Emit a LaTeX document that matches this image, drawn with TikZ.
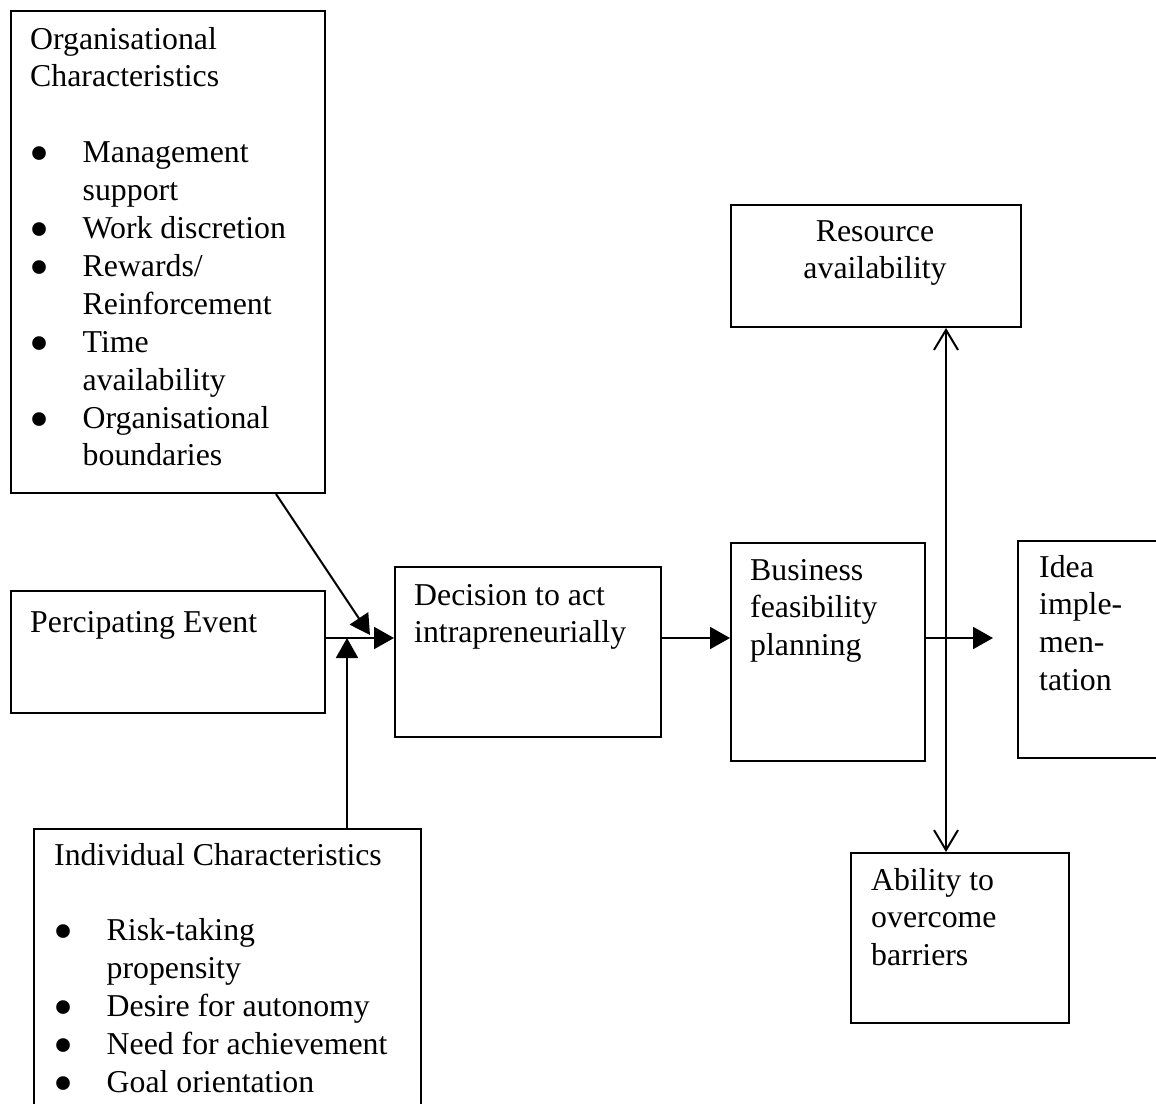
\documentclass[tikz,border=0pt]{standalone}
\usepackage{fontspec}
\setmainfont{Liberation Serif}
\usetikzlibrary{arrows.meta,calc}
% bulleted line with a hanging indent for its continuation lines
\newcommand\bul[1]{\par\hangindent=52.5pt\hangafter=1\noindent
  \makebox[52.5pt][l]{\hspace{-1pt}\raisebox{-10pt}[0pt][0pt]{\scalebox{1.8}{\textbullet}}}#1}
\begin{document}
\begin{tikzpicture}[x=1pt,y=-1pt,
  box/.style={draw,line width=2pt,rectangle,inner sep=0pt,anchor=north west},
  txt/.style={inner sep=0pt,anchor=base west,font=\fontsize{31.8}{37.9}\selectfont},
  conn/.style={line width=2pt},
  fwd/.style={conn,-{Triangle[length=20pt,width=22pt]}},
  both/.style={conn,{Straight Barb[length=20pt,width=24pt]}-{Straight Barb[length=20pt,width=24pt]}}]
\useasboundingbox (0,0) rectangle (1156,1103);
\clip (0,0) rectangle (1156,1103);
\fill[white] (0,0) rectangle (1156,1103);

% boxes
\node[box,minimum width=314pt,minimum height=482pt] (org) at (10,10) {};
\node[box,minimum width=314pt,minimum height=122pt] (pe) at (10,590) {};
\node[box,minimum width=266pt,minimum height=170pt] (dec) at (394,566) {};
\node[box,minimum width=194pt,minimum height=218pt] (bus) at (730,542) {};
\node[box,minimum width=290pt,minimum height=122pt] (res) at (730,204) {};
\node[box,minimum width=180pt,minimum height=217pt] (idea) at (1017,540) {};
\node[box,minimum width=218pt,minimum height=170pt] (abl) at (850,852) {};
\node[box,minimum width=387pt,minimum height=310pt] (ind) at (33,828) {};

% texts
\node[txt] (orgtxt) at (30,49) {\parbox[t]{285pt}{\raggedright
  Organisational\newline Characteristics\par\mbox{}%
  \bul{Management\newline support}%
  \bul{Work discretion}%
  \bul{Rewards/\newline Reinforcement}%
  \bul{Time\newline availability}%
  \bul{Organisational\newline boundaries}}};
\node[txt] (petxt) at (30,632) {\parbox[t]{285pt}{\raggedright Percipating Event}};
\node[txt] (dectxt) at (414,605) {\parbox[t]{240pt}{\raggedright Decision to act\newline intrapreneurially}};
\node[txt] (bustxt) at (750,580) {\parbox[t]{170pt}{\raggedright Business\newline feasibility\newline planning}};
\node[txt,anchor=base] (restxt) at (875,241) {\parbox[t]{270pt}{\centering Resource\\availability}};
\node[txt] (ideatxt) at (1039,577) {\parbox[t]{112pt}{\raggedright Idea\newline imple-\newline men-\newline tation}};
\node[txt] (abltxt) at (871,890) {\parbox[t]{190pt}{\raggedright Ability to\newline overcome\newline barriers}};
\node[txt] (indtxt) at (54,865) {\parbox[t]{360pt}{\raggedright
  Individual Characteristics\par\mbox{}%
  \bul{Risk-taking\newline propensity}%
  \bul{Desire for autonomy}%
  \bul{Need for achievement}%
  \bul{Goal orientation}}};

% reference points for the connectors
\coordinate (flow) at (0,638);
\coordinate (riser) at (347,0);
\coordinate (meet) at (370,635);
\coordinate (spine) at (946,0);

% connectors
\draw[fwd] (pe.east |- flow) -- (dec.west |- flow);
\draw[fwd] ($(org.south east)+(-50,0)$) -- (meet);
\draw[fwd] (ind.north -| riser) -- (riser |- flow);
\draw[fwd] (dec.east |- flow) -- (bus.west |- flow);
\draw[fwd] (bus.east |- flow) -- ($(idea.west |- flow)+(-24,0)$);
\draw[both] (res.south -| spine) -- (abl.north -| spine);
\end{tikzpicture}
\end{document}
